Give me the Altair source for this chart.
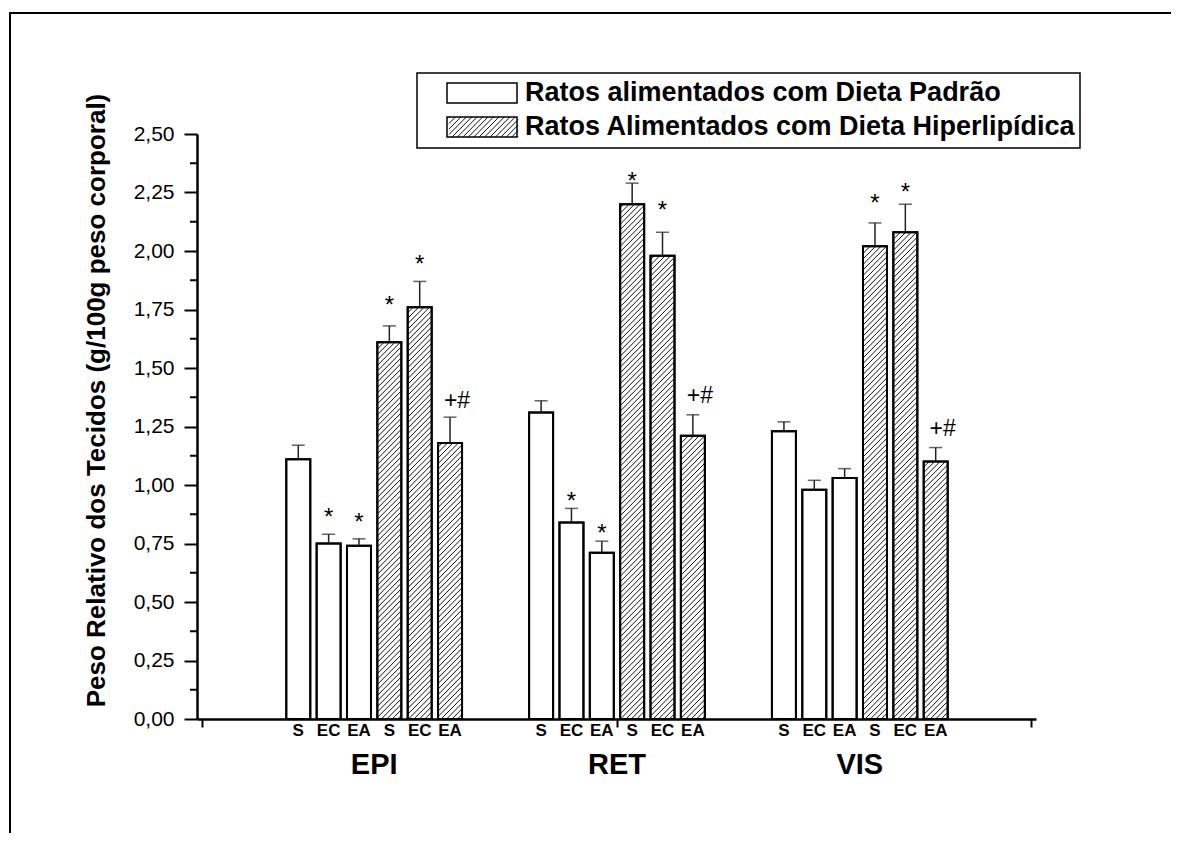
import altair as alt
import pandas as pd
import numpy as np

# ---------------- data ----------------
groups = ["EPI", "RET", "VIS"]
subgroups = ["S", "EC", "EA", "S", "EC", "EA"]
diets = ["Padrão", "Padrão", "Padrão", "Hiperlipídica", "Hiperlipídica", "Hiperlipídica"]

epi_mean = [1.11, 0.75, 0.74, 1.61, 1.76, 1.18]
epi_sem = [0.06, 0.04, 0.03, 0.07, 0.11, 0.11]
ret_mean = [1.31, 0.84, 0.71, 2.20, 1.98, 1.21]
ret_sem = [0.05, 0.06, 0.05, 0.09, 0.10, 0.09]
vis_mean = [1.23, 0.98, 1.03, 2.02, 2.08, 1.10]
vis_sem = [0.04, 0.04, 0.04, 0.10, 0.12, 0.06]

epi_marks = ["", "*", "*", "*", "*", "+#"]
ret_marks = ["", "*", "*", "*", "*", "+#"]
vis_marks = ["", "", "", "*", "*", "+#"]
epi_mark_y = [0, 0.888, 0.868, 1.795, 1.970, 1.363]
ret_mark_y = [0, 0.958, 0.821, 2.326, 2.199, 1.385]
vis_mark_y = [0, 0, 0, 2.231, 2.278, 1.244]

y_ticks = [0, 0.25, 0.5, 0.75, 1.0, 1.25, 1.5, 1.75, 2.0, 2.25, 2.5]
y_minor = [0.125, 0.375, 0.625, 0.875, 1.125, 1.375, 1.625, 1.875, 2.125, 2.375]

legend_labels = ["Ratos alimentados com Dieta Padrão",
                 "Ratos Alimentados com Dieta Hiperlipídica"]
y_title = "Peso Relativo dos Tecidos (g/100g peso corporal)"

# ---------------- layout constants ----------------
W, H = 839, 585
X0, X1 = 0.291, 3.705
Y0, Y1 = 0.0, 2.5
STEP = 0.125
BAR = 24
FONT = "Liberation Sans"
HATCH_S = 5.5

def px_x(x):
    return (x - X0) / (X1 - X0) * W

def dx_from_px(p):
    return X0 + p / W * (X1 - X0)

def dy_from_px_up(p):
    return Y0 + p / H * (Y1 - Y0)

# ---------------- build table ----------------
means = [epi_mean, ret_mean, vis_mean]
sems = [epi_sem, ret_sem, vis_sem]
marks = [epi_marks, ret_marks, vis_marks]
marks_y = [epi_mark_y, ret_mark_y, vis_mark_y]
rows = []
for gi, g in enumerate(groups):
    for k in range(6):
        rows.append(dict(group=g, sub=subgroups[k], diet=diets[k],
                         x=gi + 1 + (k - 2.5) * STEP,
                         mean=means[gi][k], sem=sems[gi][k],
                         top=means[gi][k] + sems[gi][k],
                         mark=marks[gi][k], mark_y=marks_y[gi][k]))
df = pd.DataFrame(rows)
df_groups = pd.DataFrame({"group": groups, "x": [1, 2, 3]})
df_minor = pd.DataFrame({"v": y_minor})
one = pd.DataFrame({"a": [0]})


def hatch_segments(L, R, B, T, s):
    segs = []
    kmin = int(np.floor((L - (T - B)) / s)) - 1
    kmax = int(np.ceil(R / s)) + 1
    for kk in range(kmin, kmax + 1):
        c = kk * s
        ylo = max(B, B + L - c)
        yhi = min(T, B + R - c)
        if yhi - ylo > 0.5:
            segs.append((c + ylo - B, ylo, c + yhi - B, yhi))
    return segs

hrows = []
for _, r in df[df.diet == "Hiperlipídica"].iterrows():
    cx = px_x(r.x)
    top_px = r["mean"] / (Y1 - Y0) * H
    for (xa, ya, xb, yb) in hatch_segments(cx - BAR / 2, cx + BAR / 2, 0, top_px, HATCH_S):
        hrows.append(dict(hx=dx_from_px(xa), hy=dy_from_px_up(ya),
                          hx2=dx_from_px(xb), hy2=dy_from_px_up(yb)))

# legend swatch hatch (pixel layout converted into the same scales)
SW_L, SW_R = 250, 320
SW2_T, SW2_B = -17, 3   # plot pixel coords (down)
for (xa, ya, xb, yb) in hatch_segments(SW_L, SW_R, H - SW2_B, H - SW2_T, HATCH_S):
    hrows.append(dict(hx=dx_from_px(xa), hy=dy_from_px_up(ya),
                      hx2=dx_from_px(xb), hy2=dy_from_px_up(yb)))
df_hatch = pd.DataFrame(hrows)

xscale = alt.Scale(domain=[X0, X1], nice=False, zero=False)
yscale = alt.Scale(domain=[Y0, Y1], nice=False, zero=False)

yaxis = alt.Axis(values=y_ticks,
                 labelExpr="replace(format(datum.value, '.2f'), '.', ',')",
                 tickSize=13, tickWidth=2, tickColor="black",
                 domainWidth=2.5, domainColor="black",
                 labelFontSize=21, labelFont=FONT, labelColor="black", labelPadding=10,
                 grid=False,
                 title=y_title, titleFont=FONT, titleFontSize=26, titleFontWeight="bold",
                 titleColor="black", titleAngle=270, titleX=-101, titleY=266,
                 titleAlign="center", titleBaseline="middle")
xaxis = alt.Axis(values=[X0, 2, X1], labels=False, tickSize=8, tickWidth=2,
                 tickColor="black", domainWidth=2.5, domainColor="black",
                 grid=False, title=None)

def X(field):
    return alt.X(field, scale=xscale, axis=xaxis)

def Y(field):
    return alt.Y(field, scale=yscale, axis=yaxis)

# ---------------- layers ----------------
frame_top = alt.Chart(one).mark_rule(color="black", strokeWidth=2).encode(
    x=alt.value(-187), x2=alt.value(1000), y=alt.value(-121))
frame_left = alt.Chart(one).mark_rule(color="black", strokeWidth=2).encode(
    x=alt.value(-187), y=alt.value(-122), y2=alt.value(720))

LEG_R = 883
legend_box = alt.Chart(one).mark_rect(fill="white", stroke="black", strokeWidth=1.5).encode(
    x=alt.value(220), x2=alt.value(LEG_R), y=alt.value(-61), y2=alt.value(14))
sw1 = alt.Chart(one).mark_rect(fill="white", stroke="black", strokeWidth=1.5).encode(
    x=alt.value(SW_L), x2=alt.value(SW_R), y=alt.value(-51), y2=alt.value(-31))
sw2_line = alt.Chart(one).mark_rect(fillOpacity=0, stroke="black", strokeWidth=1.5).encode(
    x=alt.value(SW_L), x2=alt.value(SW_R), y=alt.value(SW2_T), y2=alt.value(SW2_B))
leg_t1 = alt.Chart(one).mark_text(align="left", baseline="middle", font=FONT,
                                  fontSize=27, fontWeight="bold", color="black").encode(
    x=alt.value(328), y=alt.value(-41), text=alt.value(legend_labels[0]))
leg_t2 = alt.Chart(one).mark_text(align="left", baseline="middle", font=FONT,
                                  fontSize=27, fontWeight="bold", color="black").encode(
    x=alt.value(328), y=alt.value(-7), text=alt.value(legend_labels[1]))

bars = alt.Chart(df).mark_bar(size=BAR, fill="white", stroke="black", strokeWidth=2).encode(
    x=X("x:Q"), y=Y("mean:Q"), y2=alt.Y2(datum=0))

hatch = alt.Chart(df_hatch).mark_rule(color="#111111", strokeWidth=1).encode(
    x=X("hx:Q"), x2="hx2:Q", y=Y("hy:Q"), y2="hy2:Q")

bar_outline = alt.Chart(df).mark_bar(size=BAR, fillOpacity=0, stroke="black", strokeWidth=2).encode(
    x=X("x:Q"), y=Y("mean:Q"), y2=alt.Y2(datum=0))

err = alt.Chart(df).mark_rule(color="#222222", strokeWidth=1.5).encode(
    x=X("x:Q"), y=Y("mean:Q"), y2="top:Q")
caps = alt.Chart(df).mark_tick(orient="horizontal", size=13, thickness=1.5, color="#222222").encode(
    x=X("x:Q"), y=Y("top:Q"))

stars = alt.Chart(df).transform_filter("datum.mark == '*'").mark_text(
    font=FONT, fontSize=24, baseline="middle", dy=7, color="black").encode(
    x=X("x:Q"), y=Y("mark_y:Q"), text="mark:N")
plus = alt.Chart(df).transform_filter("datum.mark == '+#'").mark_text(
    font=FONT, fontSize=23, baseline="middle", dy=1, dx=7, color="black").encode(
    x=X("x:Q"), y=Y("mark_y:Q"), text="mark:N")

minor = alt.Chart(df_minor).mark_rule(color="black", strokeWidth=2).encode(
    y=Y("v:Q"), x=alt.value(-7), x2=alt.value(0))

sublabels = alt.Chart(df).mark_text(font=FONT, fontSize=17, fontWeight="bold",
                                    baseline="alphabetic", color="black").encode(
    x=X("x:Q"), y=alt.value(602), text="sub:N")
grouplabels = alt.Chart(df_groups).mark_text(font=FONT, fontSize=29, fontWeight="bold",
                                             baseline="alphabetic", color="black").encode(
    x=X("x:Q"), y=alt.value(640), text="group:N")

chart = alt.layer(
    frame_top, frame_left,
    legend_box, sw1,
    bars, hatch, bar_outline, err, caps, stars, plus, minor,
    sublabels, grouplabels,
    sw2_line, leg_t1, leg_t2,
).properties(
    width=W, height=H,
    padding={"left": 189, "top": 126, "right": 135, "bottom": 114},
    autosize=alt.AutoSizeParams(type="none"),
    background="white",
).configure_view(stroke=None)

chart.save("out.html", embed_options={"renderer": "svg", "actions": False})
